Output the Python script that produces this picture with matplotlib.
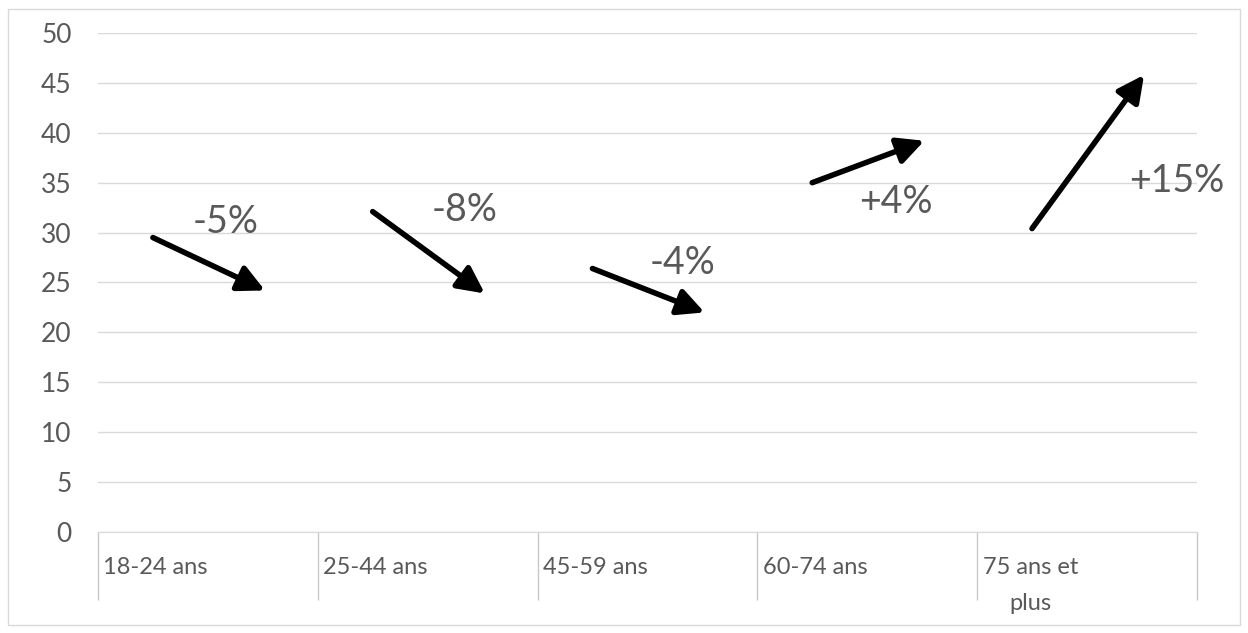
"""Age-group change arrows chart."""

import matplotlib
matplotlib.use('Agg')
import matplotlib.pyplot as plt
from matplotlib.patches import Rectangle

categories = ['18-24 ans', '25-44 ans', '45-59 ans', '60-74 ans', '75 ans et\nplus']
start_vals = [29.5, 32.1, 26.4, 35.0, 30.4]
end_vals = [24.2, 23.9, 22.0, 39.2, 45.8]
changes = ['-5%', '-8%', '-4%', '+4%', '+15%']

# label placement (offset inside category, y in data units)
label_dx = [0.58, 0.67, 0.66, 0.63, 0.91]
label_y = [31.1, 32.3, 27.0, 33.1, 35.2]

plt.rcParams['font.family'] = ['Lato', 'DejaVu Sans']
grey = '#595959'
grid_col = '#d9d9d9'

fig = plt.figure(figsize=(12.48, 6.33), dpi=100)
ax = fig.add_axes([0.0785, 0.1596, 0.8805, 0.7883])

ax.set_xlim(0, len(categories))
ax.set_ylim(0, 50)
ax.set_yticks(range(0, 51, 5))
ax.yaxis.grid(True, color=grid_col, lw=1)
ax.set_axisbelow(True)
for s in ['top', 'right', 'left']:
    ax.spines[s].set_visible(False)
ax.spines['bottom'].set_color(grid_col)
ax.tick_params(axis='y', length=0, labelsize=19, labelcolor=grey, pad=19)
ax.set_xticks(range(len(categories) + 1))
ax.set_xticklabels([])
ax.tick_params(axis='x', length=49, width=1, color='#c8c8c8', direction='out')

for i, cat in enumerate(categories):
    ax.text(i + 0.025, -0.05, cat, transform=ax.get_xaxis_transform(),
            ha='left', va='top', fontsize=17, color=grey,
            multialignment='center', linespacing=1.9)
    ax.annotate('', xy=(i + 0.76, end_vals[i]), xytext=(i + 0.25, start_vals[i]),
                arrowprops=dict(arrowstyle='-|>', lw=4, color='black',
                                mutation_scale=40, shrinkA=0, shrinkB=0))
    ax.text(i + label_dx[i], label_y[i], changes[i], ha='center', va='center',
            fontsize=27, color=grey)

fig.patches.append(Rectangle((0.0064, 0.0125), 0.987, 0.973, transform=fig.transFigure,
                             fill=False, edgecolor='#d9d9d9', lw=1))

plt.savefig('out.png', dpi=100)
